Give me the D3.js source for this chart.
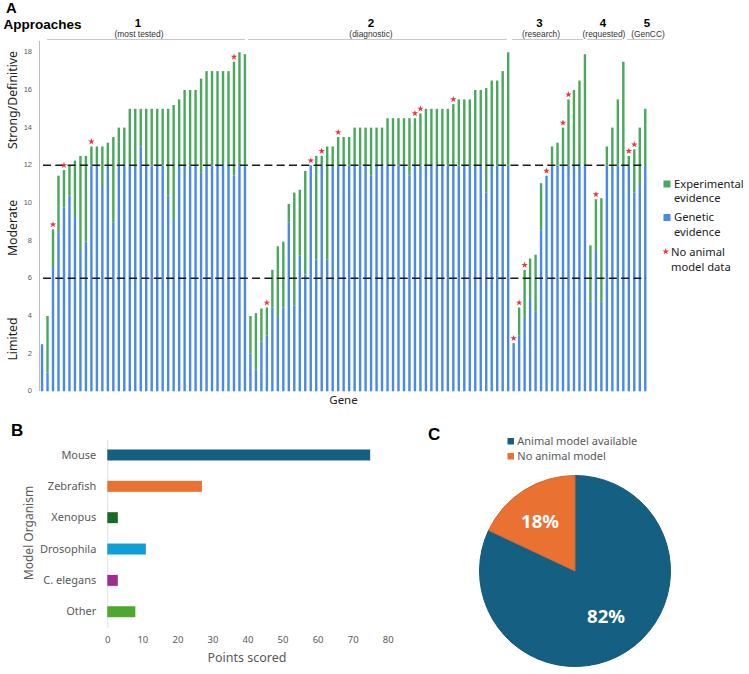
<!DOCTYPE html>
<html>
<head>
<meta charset="utf-8">
<script src="https://cdn.jsdelivr.net/npm/d3@7"></script>
<style>
	html, body { margin: 0; padding: 0; background: #fff; }
	svg { display: block; }
	text { font-family: "Noto Sans", sans-serif; }
</style>
</head>
<body>
<script>
// panel A, one entry per gene, in picture order
const totalScore = [
	2.5, 4, 8.6, 11.45, 11.75, 12, 12.25, 12.5, 12.5, 13, 13, 13, 13.2, 13.5, 14, 14, 15, 15, 15, 15, 15, 15, 15, 15, 15.2, 15.5, 16, 16, 16, 16.6, 17, 17, 17, 17, 17, 17.5, 18, 17.9,
	4, 4.15, 4.4, 4.45, 6.45, 7.7, 7.95, 9.95, 10.55, 10.7, 11.7, 12, 12.5, 12.5, 13, 13, 13.5, 13.5, 13.5, 14, 14, 14, 14, 14, 14, 14.5, 14.5, 14.5, 14.5, 14.5, 14.5, 14.75, 15, 15, 15, 15, 15, 15.25, 15.5, 15.5, 15.5, 16, 16, 16.1, 16.5, 16.5, 17, 18,
	2.56, 4.45, 6.45, 7.05, 7.25, 11.05, 11.45, 13, 13.2, 14, 15.5, 16, 16.5, 17.9,
	7.75, 10.2, 10.25, 13, 14, 15.5, 17.5,
	12.5, 12.85, 14, 15
];
const geneticScore = [
	2.5, 1, 6.6, 8.45, 9.75, 10.4, 9.25, 7.45, 7.95, 12, 12, 10.9, 12, 8.95, 12, 12, 12, 12, 13, 12, 12, 12, 12, 10.4, 9.15, 12, 12, 12, 12, 11.6, 12, 12, 12, 12, 12, 11.45, 12, 12,
	2, 1.15, 2.65, 2.95, 4.45, 3.95, 4.45, 8.95, 4.55, 7.2, 6.2, 12, 7, 12, 7, 12, 12, 12, 12, 12, 12, 12, 11.47, 12, 12, 12, 12, 12, 12, 11.47, 12, 12, 12, 12, 12, 12, 12, 12, 12, 12, 12, 12, 12, 10.55, 12, 12, 12, 12,
	2.56, 2.95, 3.95, 4.95, 4.25, 8.55, 11.45, 12, 12, 12, 12, 12, 12, 12,
	4.75, 7.45, 4.75, 12, 12, 12, 12,
	12, 10.55, 10.95, 12
];
const noModelGenes = [2, 4, 9, 35, 41, 49, 51, 54, 68, 69, 75, 86, 87, 88, 92, 95, 96, 101, 107, 108];
const scoreTicks = [0, 2, 4, 6, 8, 10, 12, 14, 16, 18];
const cutoffs = [6, 12];
const classLabels = ['Limited', 'Moderate', 'Strong/Definitive'];
const approachNames = ['1', '2', '3', '4', '5'];
const approachNotes = ['(most tested)', '(diagnostic)', '(research)', '(requested)', '(GenCC)'];

// panel B
const organisms = ['Mouse', 'Zebrafish', 'Xenopus', 'Drosophila', 'C. elegans', 'Other'];
const organismPoints = [75, 27, 3, 11, 3, 8];
const pointTicks = [0, 10, 20, 30, 40, 50, 60, 70, 80];

// panel C
const modelLabels = ['Animal model available', 'No animal model'];
const modelShares = [82, 18];

const green = '#4aa85c';
const blue = '#4a88ea';
const red = '#f2303c';
const grey = '#595959';
const arial = '"Liberation Sans", sans-serif';
const organismColors = ['#156082', '#e97132', '#196b24', '#0f9ed5', '#a02b93', '#4ea72e'];
const pieColors = ['#156082', '#e97132'];

const svg = d3.select('body').append('svg')
	.attr('width', 749)
	.attr('height', 674);

function label(g, x, y, str, size, opts = {}) {
	const t = g.append('text')
		.attr('x', x)
		.attr('y', y)
		.attr('dy', '.35em')
		.attr('font-size', size + 'px')
		.attr('font-weight', opts.weight || 400)
		.attr('fill', opts.fill || '#222')
		.attr('text-anchor', opts.anchor || 'middle')
		.text(str);
	if (opts.font) t.style('font-family', opts.font);
	if (opts.rotate) t.attr('transform', `rotate(-90,${x},${y})`);
	return t;
}

/* ---- A ---- */
const a = svg.append('g');
const genes = d3.range(totalScore.length);
const xGene = d3.scaleBand().domain(genes).range([39.3, 648]).paddingInner(.56).paddingOuter(.28);
const yScore = d3.scaleLinear().domain([0, 18]).range([391.3, 52.3]);

label(a, 6, 8.3, 'A', 14.8, { weight: 700, anchor: 'start', fill: '#000', font: arial });
label(a, 3.5, 24.3, 'Approaches', 13.5, { weight: 700, anchor: 'start', fill: '#000', font: arial });

a.append('g')
	.attr('transform', 'translate(39.5,0)')
	.call(d3.axisLeft(yScore).tickValues(scoreTicks).tickSize(0).tickPadding(7.5))
	.call(g => g.select('.domain').attr('stroke', '#bdbdbd').attr('d', `M0,41V391`))
	.call(g => g.selectAll('text').attr('font-size', '7.5px').attr('fill', grey)
		.attr('transform', 'translate(0,-1)')
		.style('font-family', arial));

a.append('g').selectAll('rect')
	.data(genes)
	.join('rect')
	.attr('x', i => xGene(i))
	.attr('width', xGene.bandwidth())
	.attr('y', i => yScore(geneticScore[i]))
	.attr('height', i => yScore(0) - yScore(geneticScore[i]))
	.attr('fill', blue);

a.append('g').selectAll('rect')
	.data(genes.filter(i => totalScore[i] > geneticScore[i]))
	.join('rect')
	.attr('x', i => xGene(i))
	.attr('width', xGene.bandwidth())
	.attr('y', i => yScore(totalScore[i]))
	.attr('height', i => yScore(geneticScore[i]) - yScore(totalScore[i]))
	.attr('fill', green);

a.append('g').selectAll('line')
	.data(cutoffs)
	.join('line')
	.attr('x1', 43)
	.attr('x2', 646)
	.attr('y1', d => yScore(d))
	.attr('y2', d => yScore(d))
	.attr('stroke', '#1a1a1a')
	.attr('stroke-width', 1.5)
	.attr('stroke-dasharray', '8 4.3');

const star = d3.symbol().type(d3.symbolStar).size(13);
a.append('g').selectAll('path')
	.data(noModelGenes)
	.join('path')
	.attr('d', star)
	.attr('fill', red)
	.attr('transform', i => `translate(${xGene(i) + xGene.bandwidth() / 2},${yScore(totalScore[i]) - 4.8})`);

const classY = [339, 228, 100];
classLabels.forEach((d, i) => label(a, 12.5, classY[i], d, 12.3, { rotate: true }));
label(a, 343.5, 400, 'Gene', 11.5);

const approachLines = [[47, 245], [248, 507], [512, 583], [587, 622], [627, 663]];
const approachNameX = [138, 371, 539.5, 603, 647];
const approachNoteX = [139, 371, 541, 604, 648];
approachNames.forEach((d, i) => {
	label(a, approachNameX[i], 23, d, 11.5, { weight: 700, fill: '#000', font: arial });
	label(a, approachNoteX[i], 34.2, approachNotes[i], 8.4, { fill: '#333', font: arial });
	a.append('line')
		.attr('x1', approachLines[i][0])
		.attr('x2', approachLines[i][1])
		.attr('y1', 39.5)
		.attr('y2', 39.5)
		.attr('stroke', '#c9c9c9')
		.attr('stroke-width', 1);
});

a.append('rect').attr('x', 663.5).attr('y', 180.5).attr('width', 7).attr('height', 7).attr('fill', green);
a.append('rect').attr('x', 663.5).attr('y', 214).attr('width', 7).attr('height', 7).attr('fill', blue);
a.append('path').attr('d', star).attr('fill', red).attr('transform', 'translate(665.7,251.5)');
label(a, 674, 184, 'Experimental', 11.2, { anchor: 'start' });
label(a, 674, 198, 'evidence', 11.2, { anchor: 'start' });
label(a, 674, 217.5, 'Genetic', 11.2, { anchor: 'start' });
label(a, 674, 232, 'evidence', 11.2, { anchor: 'start' });
label(a, 671, 252.5, 'No animal', 11.2, { anchor: 'start' });
label(a, 671, 267, 'model data', 11.2, { anchor: 'start' });

/* ---- B ---- */
const b = svg.append('g');
const xPoints = d3.scaleLinear().domain([0, 80]).range([107.3, 387.7]);
const yOrganism = d3.scaleBand().domain(organisms).range([439.3, 627.4]).paddingInner(.65).paddingOuter(.325);

label(b, 11, 430, 'B', 17, { weight: 700, anchor: 'start', fill: '#000', font: arial });

b.append('g')
	.attr('transform', 'translate(107.3,0)')
	.call(d3.axisLeft(yOrganism).tickSize(0).tickPadding(11))
	.call(g => g.select('.domain').attr('stroke', '#e2e2e2'))
	.call(g => g.selectAll('text').attr('font-size', '11px').attr('fill', grey));

b.append('g')
	.attr('transform', 'translate(0,627.4)')
	.call(d3.axisBottom(xPoints).tickValues(pointTicks).tickSize(0).tickPadding(9))
	.call(g => g.select('.domain').remove())
	.call(g => g.selectAll('text').attr('font-size', '9.5px').attr('fill', grey));

b.append('g').selectAll('rect')
	.data(organisms)
	.join('rect')
	.attr('x', xPoints(0))
	.attr('y', d => yOrganism(d))
	.attr('width', (d, i) => xPoints(organismPoints[i]) - xPoints(0))
	.attr('height', yOrganism.bandwidth())
	.attr('fill', (d, i) => organismColors[i]);

label(b, 247, 658, 'Points scored', 12.5, { fill: grey });
label(b, 28.7, 533, 'Model Organism', 12, { fill: grey, rotate: true });

/* ---- C ---- */
const c = svg.append('g');
label(c, 428, 434, 'C', 17, { weight: 700, anchor: 'start', fill: '#000', font: arial });

modelLabels.forEach((d, i) => {
	c.append('rect')
		.attr('x', 507.5)
		.attr('y', 438 + i * 15)
		.attr('width', 6.5)
		.attr('height', 6.5)
		.attr('fill', pieColors[i]);
	label(c, 517.3, 441 + i * 15, d, 11, { anchor: 'start', fill: grey });
});

const pie = d3.pie().sort(null);
const arc = d3.arc().innerRadius(0).outerRadius(95.5);
const slices = c.append('g').attr('transform', 'translate(575,571)');
slices.selectAll('path')
	.data(pie(modelShares))
	.join('path')
	.attr('d', arc)
	.attr('fill', (d, i) => pieColors[i])
	.attr('stroke', (d, i) => d3.color(pieColors[i]).darker(.25))
	.attr('stroke-width', 1);

const shareLabelPos = [[606, 616.5], [540, 521.5]];
modelShares.forEach((d, i) => {
	label(c, shareLabelPos[i][0], shareLabelPos[i][1], d + '%', 18.5, { weight: 700, fill: '#fff' });
});
</script>
</body>
</html>
